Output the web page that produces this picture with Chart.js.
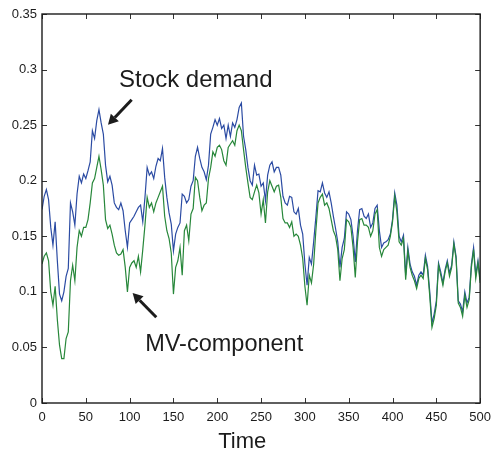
<!DOCTYPE html>
<html>
<head>
<meta charset="utf-8">
<script src="https://cdn.jsdelivr.net/npm/chart.js@4.4.1/dist/chart.umd.min.js"></script>
<style>
  html, body { margin: 0; padding: 0; background: #ffffff; }
  canvas { display: block; }
</style>
</head>
<body>
<canvas id="chart" width="498" height="458"></canvas>
<script>
// Sampling interval of the series (time units between points)
const STEP = 2.5;

// Stock demand, one value every STEP time units from t = 0 to t = 500
const stockDemand = [
  0.174, 0.186, 0.192, 0.183, 0.158, 0.142, 0.163, 0.128, 0.098, 0.092,
  0.100, 0.114, 0.121, 0.180, 0.172, 0.160, 0.188, 0.204, 0.198, 0.206,
  0.202, 0.209, 0.217, 0.245, 0.238, 0.254, 0.264, 0.252, 0.242, 0.214,
  0.199, 0.204, 0.196, 0.180, 0.176, 0.174, 0.180, 0.173, 0.155, 0.140,
  0.162, 0.165, 0.168, 0.172, 0.176, 0.178, 0.163, 0.185, 0.212, 0.205,
  0.208, 0.202, 0.213, 0.220, 0.218, 0.229, 0.203, 0.185, 0.171, 0.161,
  0.137, 0.152, 0.158, 0.162, 0.188, 0.186, 0.180, 0.183, 0.195, 0.200,
  0.222, 0.230, 0.220, 0.212, 0.208, 0.201, 0.214, 0.242, 0.248, 0.255,
  0.250, 0.256, 0.247, 0.250, 0.238, 0.250, 0.240, 0.252, 0.248, 0.255,
  0.266, 0.270, 0.240, 0.228, 0.212, 0.200, 0.196, 0.214, 0.205, 0.206,
  0.195, 0.198, 0.182, 0.205, 0.214, 0.217, 0.208, 0.212, 0.212, 0.205,
  0.186, 0.180, 0.178, 0.186, 0.185, 0.172, 0.170, 0.175, 0.160, 0.152,
  0.125, 0.106, 0.131, 0.125, 0.145, 0.167, 0.191, 0.190, 0.198, 0.189,
  0.185, 0.190, 0.180, 0.168, 0.157, 0.145, 0.122, 0.140, 0.148, 0.172,
  0.170, 0.165, 0.150, 0.127, 0.155, 0.174, 0.175, 0.168, 0.166, 0.170,
  0.158, 0.162, 0.175, 0.178, 0.155, 0.140, 0.144, 0.145, 0.147, 0.152,
  0.165, 0.189, 0.178, 0.150, 0.145, 0.151, 0.115, 0.140, 0.125, 0.118,
  0.114, 0.106, 0.115, 0.118, 0.115, 0.133, 0.123, 0.100, 0.072, 0.080,
  0.092, 0.126, 0.118, 0.108, 0.120, 0.128, 0.117, 0.124, 0.145, 0.132,
  0.092, 0.089, 0.082, 0.100, 0.090, 0.095, 0.125, 0.140, 0.115, 0.128,
  0.111
];

// Mean-variance component, same sampling
const mvComponent = [
  0.125, 0.132, 0.135, 0.128, 0.100, 0.088, 0.105, 0.075, 0.052, 0.040,
  0.040, 0.058, 0.064, 0.110, 0.124, 0.110, 0.140, 0.155, 0.150, 0.158,
  0.158, 0.165, 0.180, 0.198, 0.202, 0.212, 0.222, 0.210, 0.196, 0.165,
  0.157, 0.160, 0.152, 0.142, 0.135, 0.133, 0.134, 0.138, 0.122, 0.100,
  0.122, 0.126, 0.128, 0.122, 0.132, 0.118, 0.138, 0.160, 0.185, 0.176,
  0.180, 0.172, 0.180, 0.185, 0.190, 0.195, 0.168, 0.155, 0.148, 0.135,
  0.098, 0.122, 0.128, 0.140, 0.115, 0.155, 0.160, 0.146, 0.170, 0.175,
  0.203, 0.200, 0.185, 0.173, 0.178, 0.180, 0.202, 0.212, 0.226, 0.222,
  0.230, 0.232, 0.228, 0.218, 0.214, 0.230, 0.233, 0.236, 0.232, 0.245,
  0.250, 0.245, 0.228, 0.212, 0.198, 0.185, 0.183, 0.190, 0.196, 0.189,
  0.170, 0.183, 0.162, 0.190, 0.200, 0.195, 0.190, 0.195, 0.196, 0.185,
  0.166, 0.162, 0.162, 0.158, 0.163, 0.150, 0.152, 0.150, 0.142, 0.130,
  0.105, 0.088, 0.115, 0.108, 0.125, 0.155, 0.180, 0.185, 0.188, 0.178,
  0.180, 0.175, 0.165, 0.155, 0.150, 0.138, 0.110, 0.130, 0.138, 0.165,
  0.163, 0.158, 0.140, 0.113, 0.145, 0.165, 0.166, 0.160, 0.160, 0.158,
  0.150, 0.155, 0.170, 0.174, 0.140, 0.132, 0.138, 0.140, 0.142, 0.150,
  0.163, 0.186, 0.172, 0.145, 0.142, 0.148, 0.111, 0.137, 0.122, 0.115,
  0.110, 0.103, 0.112, 0.115, 0.112, 0.130, 0.120, 0.096, 0.068, 0.076,
  0.088, 0.124, 0.115, 0.106, 0.118, 0.126, 0.114, 0.122, 0.143, 0.130,
  0.090, 0.086, 0.078, 0.097, 0.086, 0.093, 0.122, 0.138, 0.112, 0.126,
  0.108
];

// Axis ticks
const timeTicks = [0, 50, 100, 150, 200, 250, 300, 350, 400, 450, 500];
const valueTicks = [0, 0.05, 0.1, 0.15, 0.2, 0.25, 0.3, 0.35];

// Text labels
const xTitle = 'Time';
const stockLabel = 'Stock demand';
const mvLabel = 'MV-component';

const time = stockDemand.map((_, i) => i * STEP);
const toPoints = values => values.map((v, i) => ({ x: time[i], y: v }));

const FONT = '"Liberation Sans", Arial, Helvetica, sans-serif';
const INK = '#1c1c1c';

// Arrow from (x1,y1) to (x2,y2) with a filled head at the second point
function drawArrow(ctx, x1, y1, x2, y2) {
  const ang = Math.atan2(y2 - y1, x2 - x1);
  const head = 10, half = 5.5;
  const bx = x2 - head * Math.cos(ang), by = y2 - head * Math.sin(ang);
  ctx.beginPath();
  ctx.moveTo(x1, y1);
  ctx.lineTo(bx, by);
  ctx.lineWidth = 3;
  ctx.stroke();
  ctx.beginPath();
  ctx.moveTo(x2, y2);
  ctx.lineTo(bx + half * Math.sin(ang), by - half * Math.cos(ang));
  ctx.lineTo(bx - half * Math.sin(ang), by + half * Math.cos(ang));
  ctx.closePath();
  ctx.fill();
}

// Box frame with inward tick marks, series annotations and the x-axis title
const framePlugin = {
  id: 'frame',
  afterDatasetsDraw(chart) {
    const { ctx, chartArea: a, scales: { x, y } } = chart;
    ctx.save();

    ctx.strokeStyle = '#333';
    ctx.lineWidth = 1;
    ctx.beginPath();
    timeTicks.forEach(v => {
      const px = Math.round(x.getPixelForValue(v)) + 0.5;
      ctx.moveTo(px, a.bottom); ctx.lineTo(px, a.bottom - 5);
      ctx.moveTo(px, a.top); ctx.lineTo(px, a.top + 5);
    });
    valueTicks.forEach(v => {
      const py = Math.round(y.getPixelForValue(v)) + 0.5;
      ctx.moveTo(a.left, py); ctx.lineTo(a.left + 5, py);
      ctx.moveTo(a.right, py); ctx.lineTo(a.right - 5, py);
    });
    ctx.stroke();

    ctx.strokeStyle = INK;
    ctx.lineWidth = 1.4;
    ctx.strokeRect(a.left, a.top, a.right - a.left, a.bottom - a.top);

    // Annotations anchored in data coordinates
    ctx.fillStyle = INK;
    ctx.strokeStyle = INK;
    ctx.textAlign = 'left';
    ctx.textBaseline = 'alphabetic';
    ctx.font = '24px ' + FONT;
    ctx.fillText(stockLabel, x.getPixelForValue(88), y.getPixelForValue(0.2843));
    ctx.font = '23.5px ' + FONT;
    ctx.fillText(mvLabel, x.getPixelForValue(117.7), y.getPixelForValue(0.0469));

    drawArrow(ctx, x.getPixelForValue(102.3), y.getPixelForValue(0.2729),
                   x.getPixelForValue(75.3), y.getPixelForValue(0.2503));
    drawArrow(ctx, x.getPixelForValue(130.4), y.getPixelForValue(0.0772),
                   x.getPixelForValue(103.4), y.getPixelForValue(0.0989));

    // x-axis title
    ctx.font = '22px ' + FONT;
    ctx.textAlign = 'center';
    ctx.textBaseline = 'middle';
    ctx.fillText(xTitle, x.getPixelForValue(228.5), a.bottom + 39);

    ctx.restore();
  }
};

new Chart(document.getElementById('chart'), {
  type: 'line',
  data: {
    datasets: [
      {
        label: mvLabel,
        data: toPoints(mvComponent),
        borderColor: '#27873a',
        borderWidth: 1.2,
        pointRadius: 0,
        tension: 0,
        order: 0
      },
      {
        label: stockLabel,
        data: toPoints(stockDemand),
        borderColor: '#2b4ba3',
        borderWidth: 1.2,
        pointRadius: 0,
        tension: 0,
        order: 1
      }
    ]
  },
  options: {
    responsive: false,
    animation: false,
    events: [],
    layout: { padding: { left: 0, top: 14, right: 11, bottom: 0 } },
    plugins: { legend: { display: false }, tooltip: { enabled: false } },
    scales: {
      x: {
        type: 'linear',
        min: 0,
        max: 500,
        grid: { display: false, drawTicks: false },
        border: { display: false },
        afterBuildTicks: s => { s.ticks = timeTicks.map(v => ({ value: v })); },
        afterFit: s => { s.height = 55; },
        ticks: {
          padding: 7,
          autoSkip: false,
          maxRotation: 0,
          color: INK,
          font: { family: FONT, size: 13 }
        }
      },
      y: {
        type: 'linear',
        min: 0,
        max: 0.35,
        grid: { display: false, drawTicks: false },
        border: { display: false },
        afterBuildTicks: s => { s.ticks = valueTicks.map(v => ({ value: v })); },
        afterFit: s => { s.width = 42; },
        ticks: {
          padding: 5,
          color: INK,
          font: { family: FONT, size: 13 },
          callback: v => String(+v.toFixed(2))
        }
      }
    }
  },
  plugins: [framePlugin]
});
</script>
</body>
</html>
